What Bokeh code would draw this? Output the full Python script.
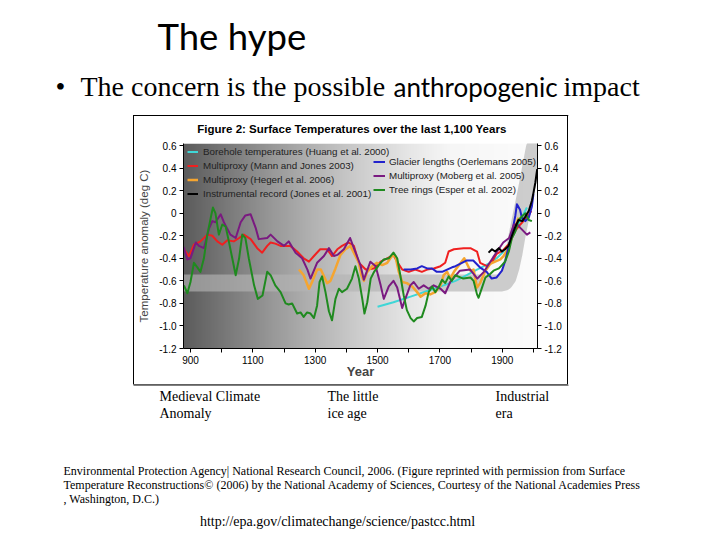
import numpy as np
from bokeh.plotting import figure
from bokeh.layouts import column, row
from bokeh.models import (Range1d, LinearAxis, FixedTicker, Label, Legend, LegendItem,
                          CustomJSTickFormatter, Spacer)
from bokeh.embed import file_html
from bokeh.resources import INLINE

# ---------------- data ----------------
bore_year = [1500, 1551, 1606, 1659, 1712, 1750, 1786, 1819, 1841, 1861, 1882, 1904, 1920, 1937, 1952, 1968, 1979]
bore_temp = [-0.83, -0.79, -0.74, -0.69, -0.64, -0.60, -0.55, -0.50, -0.47, -0.44, -0.40, -0.34, -0.28, -0.19, -0.10, -0.01, 0.05]

mann_year = [879, 895, 911, 932, 954, 970, 986, 1002, 1018, 1039, 1056, 1071, 1093, 1114, 1130, 1146, 1157, 1172, 1189, 1220,
             1242, 1263, 1280, 1296, 1316, 1338, 1354, 1371, 1386, 1407, 1424, 1440, 1462, 1488, 1510, 1531, 1551, 1563, 1579, 1600,
             1621, 1642, 1659, 1680, 1702, 1717, 1728, 1745, 1776, 1798, 1819, 1829, 1851, 1866, 1882, 1902, 1922, 1943, 1958, 1974,
             1984, 1993]
mann_temp = [-0.32, -0.38, -0.28, -0.25, -0.19, -0.20, -0.25, -0.28, -0.24, -0.25, -0.22, -0.19, -0.23, -0.31, -0.35, -0.29, -0.26, -0.27, -0.29, -0.29,
             -0.34, -0.40, -0.43, -0.38, -0.32, -0.32, -0.38, -0.32, -0.29, -0.26, -0.29, -0.44, -0.50, -0.49, -0.43, -0.40, -0.37, -0.43, -0.50, -0.52,
             -0.50, -0.52, -0.50, -0.49, -0.47, -0.44, -0.34, -0.32, -0.31, -0.31, -0.34, -0.44, -0.47, -0.44, -0.36, -0.33, -0.27, -0.15, -0.10, -0.05,
             -0.02, 0.02]

hegerl_year = [1248, 1263, 1280, 1290, 1306, 1318, 1338, 1349, 1365, 1381, 1397, 1413, 1429, 1440, 1448, 1456, 1467, 1483, 1498, 1515,
               1531, 1546, 1557, 1568, 1579, 1594, 1611, 1627, 1638, 1654, 1669, 1685, 1702, 1712, 1723, 1733, 1745, 1764, 1778, 1798,
               1808, 1819, 1829, 1846, 1861, 1877, 1894, 1904, 1920, 1931, 1942, 1952]
hegerl_temp = [-0.50, -0.55, -0.67, -0.61, -0.50, -0.50, -0.62, -0.60, -0.49, -0.37, -0.32, -0.29, -0.38, -0.44, -0.55, -0.60, -0.52, -0.47, -0.44, -0.46,
               -0.44, -0.38, -0.38, -0.52, -0.61, -0.62, -0.65, -0.70, -0.74, -0.71, -0.72, -0.70, -0.64, -0.55, -0.52, -0.58, -0.52, -0.45, -0.40, -0.51,
               -0.50, -0.66, -0.62, -0.51, -0.45, -0.43, -0.41, -0.38, -0.31, -0.21, -0.12, -0.04]

jones_year = [1856, 1867, 1877, 1889, 1899, 1909, 1920, 1931, 1942, 1952, 1964, 1974, 1985, 1995, 2000, 2006, 2012]
jones_temp = [-0.35, -0.32, -0.34, -0.31, -0.34, -0.32, -0.29, -0.20, -0.12, -0.06, -0.07, -0.03, 0.02, 0.11, 0.18, 0.27, 0.39]

glacier_year = [1584, 1606, 1627, 1642, 1659, 1675, 1690, 1707, 1723, 1739, 1750, 1785, 1807, 1828, 1850, 1866, 1882, 1899, 1910, 1920,
                1931, 1942, 1947, 1957, 1963, 1974, 1985, 1995, 2000]
glacier_temp = [-0.50, -0.50, -0.49, -0.47, -0.49, -0.49, -0.52, -0.52, -0.50, -0.48, -0.47, -0.42, -0.42, -0.48, -0.52, -0.58, -0.57, -0.51, -0.42, -0.30,
                -0.18, -0.02, 0.08, 0.03, -0.04, -0.07, -0.04, 0.06, 0.17]

moberg_year = [878, 890, 900, 917, 927, 943, 959, 970, 980, 997, 1007, 1028, 1045, 1061, 1076, 1093, 1109, 1119, 1146, 1157,
               1179, 1200, 1215, 1237, 1258, 1275, 1285, 1306, 1328, 1344, 1360, 1371, 1392, 1412, 1424, 1445, 1456, 1477, 1494, 1510,
               1520, 1536, 1551, 1563, 1579, 1589, 1605, 1616, 1632, 1648, 1664, 1680, 1702, 1717, 1733, 1764, 1797, 1820, 1841, 1871,
               1903, 1922, 1937, 1948, 1958, 1979, 1990]
moberg_temp = [-0.30, -0.41, -0.40, -0.26, -0.29, -0.31, -0.14, -0.07, -0.08, -0.01, -0.08, -0.19, -0.22, -0.08, -0.02, -0.01, -0.13, -0.23, -0.22, -0.19,
               -0.25, -0.29, -0.25, -0.35, -0.40, -0.50, -0.58, -0.44, -0.38, -0.31, -0.38, -0.37, -0.32, -0.22, -0.31, -0.46, -0.59, -0.43, -0.47, -0.64,
               -0.76, -0.65, -0.60, -0.66, -0.84, -0.76, -0.64, -0.61, -0.67, -0.64, -0.67, -0.64, -0.67, -0.71, -0.61, -0.51, -0.50, -0.58, -0.52, -0.39,
               -0.26, -0.22, -0.10, -0.10, -0.13, -0.19, -0.17]

esper_year = [879, 890, 900, 911, 922, 932, 943, 954, 965, 972, 980, 991, 1002, 1013, 1023, 1034, 1045, 1056, 1066, 1076,
              1087, 1104, 1116, 1131, 1146, 1157, 1172, 1189, 1205, 1215, 1226, 1242, 1253, 1263, 1274, 1285, 1296, 1306, 1314, 1322,
              1333, 1344, 1354, 1365, 1376, 1386, 1402, 1418, 1429, 1440, 1451, 1458, 1467, 1478, 1489, 1504, 1520, 1536, 1551, 1563,
              1573, 1584, 1594, 1606, 1616, 1627, 1642, 1654, 1664, 1675, 1685, 1697, 1707, 1717, 1728, 1738, 1749, 1775, 1798, 1808,
              1819, 1824, 1835, 1846, 1861, 1872, 1889, 1899, 1909, 1921, 1931, 1942, 1952, 1963, 1974, 1985, 1995]
esper_temp = [-0.64, -0.71, -0.61, -0.44, -0.48, -0.52, -0.40, -0.19, -0.04, 0.05, 0.00, -0.19, -0.10, -0.12, -0.25, -0.40, -0.55, -0.40, -0.19, -0.22,
              -0.40, -0.64, -0.76, -0.73, -0.52, -0.55, -0.64, -0.70, -0.80, -0.81, -0.80, -0.89, -0.88, -0.92, -0.88, -0.89, -0.93, -0.82, -0.61, -0.56,
              -0.70, -0.87, -0.95, -0.76, -0.67, -0.70, -0.67, -0.58, -0.47, -0.58, -0.76, -0.89, -0.79, -0.58, -0.52, -0.46, -0.41, -0.40, -0.35, -0.40,
              -0.55, -0.73, -0.86, -0.93, -0.96, -0.93, -0.92, -0.82, -0.70, -0.65, -0.70, -0.65, -0.59, -0.62, -0.56, -0.60, -0.55, -0.58, -0.57, -0.60,
              -0.72, -0.75, -0.66, -0.57, -0.54, -0.51, -0.49, -0.46, -0.43, -0.34, -0.22, -0.16, -0.06, -0.03, 0.00, -0.06, -0.07]

# background decoration: shaded "hockey stick" band and left-to-right shading
band_year = [850, 1895, 1908, 1918, 1928, 1938, 1948, 1962, 1977, 1992, 2003]
band_temp = [-0.62, -0.62, -0.61, -0.57, -0.48, -0.35, -0.19, 0.0, 0.2, 0.42, 0.58]
shade_year = [878, 1000, 1150, 1300, 1440, 1600, 1730, 2013]
shade_gray = [92, 118, 150, 180, 205, 230, 246, 252]

x_ticks = [900, 1100, 1300, 1500, 1700, 1900]
x_minor = [1000, 1200, 1400, 1600, 1800, 2000]
y_ticks = [0.6, 0.4, 0.2, 0.0, -0.2, -0.4, -0.6, -0.8, -1.0, -1.2]

chart_title = "Figure 2: Surface Temperatures over the last 1,100 Years"

X0, X1 = 877.6, 2013.0
Y0, Y1 = -1.2, 0.618

W = 720
TOP_H, MID_H, BOT_H = 116, 268, 156
TITLE_H = 22
LEFT_W, CHART_W, RIGHT_W = 133, 433, 152
CHART_X = LEFT_W + 1  # canvas x of the chart column


def text_fig(w, h):
    f = figure(width=w, height=h, output_backend="svg", toolbar_location=None,
               x_range=Range1d(0, w), y_range=Range1d(h, 0),
               x_axis_location=None, y_axis_location=None, min_border=0)
    f.outline_line_color = None
    f.grid.visible = False
    f.background_fill_color = "white"
    f.border_fill_color = "white"
    return f


def lab(f, text, x, y, size, font, align="left", style="normal"):
    f.add_layout(Label(x=x, y=y, text=text, text_font=font, text_font_size=size,
                       text_align=align, text_baseline="alphabetic",
                       text_font_style=style, text_color="black"))


# ---------------- chart ----------------
p = figure(width=CHART_W, height=MID_H - TITLE_H, output_backend="svg", toolbar_location=None,
           x_range=Range1d(X0, X1), y_range=Range1d(Y0, Y1),
           min_border_left=49, min_border_right=30, min_border_top=5, min_border_bottom=36)
p.background_fill_color = "white"
p.border_fill_color = "white"
p.outline_line_color = None
p.xgrid.visible = False
p.ygrid.visible = False

N = 400
cols = np.linspace(X0, X1, N)
g = np.interp(cols, shade_year, shade_gray).astype(np.uint8)
img = np.zeros((1, N), dtype=np.uint32)
v = img.view(dtype=np.uint8).reshape((1, N, 4))
v[0, :, 0] = g
v[0, :, 1] = g
v[0, :, 2] = g
v[0, :, 3] = 255
p.image_rgba(image=[img], x=X0, y=Y0, dw=X1 - X0, dh=Y1 - Y0)

p.line(band_year, band_temp, line_width=17, line_color="#b4b4b4", line_alpha=0.65,
       line_cap="round", line_join="round")

lw = 2
r_bore = p.line(bore_year, bore_temp, line_color="#3fd6d6", line_width=lw, line_join="round")
r_mann = p.line(mann_year, mann_temp, line_color="#f02020", line_width=lw, line_join="round")
r_heg = p.line(hegerl_year, hegerl_temp, line_color="#f5a530", line_width=2.5, line_join="round")
r_glac = p.line(glacier_year, glacier_temp, line_color="#2222cc", line_width=lw, line_join="round")
r_mob = p.line(moberg_year, moberg_temp, line_color="#7a1a80", line_width=lw, line_join="round")
r_esp = p.line(esper_year, esper_temp, line_color="#1f8a1f", line_width=lw, line_join="round")
r_jon = p.line(jones_year, jones_temp, line_color="black", line_width=lw, line_join="round")

fmt_y = CustomJSTickFormatter(code="return Math.abs(tick) < 1e-9 ? '0' : tick.toFixed(1);")
yl = p.yaxis[0]
yl.ticker = FixedTicker(ticks=y_ticks)
yl.formatter = fmt_y
yl.axis_label = "Temperature anomaly (deg C)"
yl.axis_label_text_font = "Liberation Sans"
yl.axis_label_text_font_size = "11.5px"
yl.axis_label_text_font_style = "normal"
yl.axis_label_standoff = 6
yr = LinearAxis(ticker=FixedTicker(ticks=y_ticks), formatter=fmt_y)
p.add_layout(yr, "right")
for ax in (yl, yr):
    ax.major_label_text_font = "Liberation Sans"
    ax.major_label_text_font_size = "10px"
    ax.major_label_text_color = "black"
    ax.major_tick_out = 4
    ax.major_tick_in = 0
    ax.minor_tick_out = 0
    ax.minor_tick_in = 0
    ax.major_label_standoff = 3
    ax.axis_line_color = "black"
    ax.major_tick_line_color = "black"

xa = p.xaxis[0]
xa.ticker = FixedTicker(ticks=x_ticks, minor_ticks=x_minor)
xa.formatter = CustomJSTickFormatter(code="return tick.toFixed(0);")
xa.major_label_text_font = "Liberation Sans"
xa.major_label_text_font_size = "10px"
xa.major_label_text_color = "black"
xa.major_tick_out = 4
xa.major_tick_in = 0
xa.minor_tick_out = 4
xa.minor_tick_in = 0
xa.major_label_standoff = 3
xa.axis_line_color = "black"
xa.axis_label = "Year"
xa.axis_label_text_font = "Liberation Sans"
xa.axis_label_text_font_size = "13px"
xa.axis_label_text_font_style = "bold"
xa.axis_label_standoff = -3

common = dict(orientation="vertical", padding=0, margin=0, spacing=1,
              glyph_height=13, label_height=13, label_text_font="Liberation Sans",
              label_text_font_size="9.8px",
              label_text_color="#222222", background_fill_alpha=0, border_line_alpha=0)
leg1 = Legend(items=[
    LegendItem(label="Borehole temperatures (Huang et al. 2000)", renderers=[r_bore]),
    LegendItem(label="Multiproxy (Mann and Jones 2003)", renderers=[r_mann]),
    LegendItem(label="Multiproxy (Hegerl et al. 2006)", renderers=[r_heg]),
    LegendItem(label="Instrumental record (Jones et al. 2001)", renderers=[r_jon]),
], location=(4, 148), glyph_width=11, label_standoff=5, **common)
leg2 = Legend(items=[
    LegendItem(label="Glacier lengths (Oerlemans 2005)", renderers=[r_glac]),
    LegendItem(label="Multiproxy (Moberg et al. 2005)", renderers=[r_mob]),
    LegendItem(label="Tree rings (Esper et al. 2002)", renderers=[r_esp]),
], location=(190, 152), glyph_width=12, label_standoff=4, **common)
p.add_layout(leg1)
p.add_layout(leg2)

# chart title strip (inside the chart box, above the plot)
tfig = text_fig(CHART_W, TITLE_H)
lab(tfig, chart_title, 340 - CHART_X, 128 - TOP_H, "11.5px", "Liberation Sans", align="center", style="bold")

chart_col = column(tfig, p, spacing=0,
                   styles={"outline": "1px solid black", "outline-offset": "0px"})

# ---------------- slide text & chart box edges ----------------
top = text_fig(W, TOP_H)
lab(top, "The hype", 157, 35, "36.5px", "Lato")
lab(top, "\u2022", 55, 86, "28px", "Liberation Serif")
lab(top, "The concern is the possible", 80, 86, "28px", "Liberation Serif")
lab(top, "anthropogenic", 393, 86, "26px", "Lato")
lab(top, "impact", 563, 86, "28px", "Liberation Serif")
top.line([133, 568], [TOP_H - 0.5, TOP_H - 0.5], line_color="black", line_width=1)

edge_style = {"background-color": "black"}
left_gap = Spacer(width=LEFT_W, height=MID_H)
left_edge = Spacer(width=1, height=MID_H, styles=edge_style)
right_edge = Spacer(width=1, height=MID_H, styles=edge_style)
right_gap = Spacer(width=RIGHT_W, height=MID_H)

bot = text_fig(W, BOT_H)
bot.line([133, 568], [0.5, 0.5], line_color="black", line_width=1)
B0 = TOP_H + MID_H  # canvas y of the bottom strip
lab(bot, "Medieval Climate", 159, 396 - B0, "14px", "Liberation Serif")
lab(bot, "Anomaly", 159, 413 - B0, "14px", "Liberation Serif")
lab(bot, "The little", 327, 396 - B0, "14px", "Liberation Serif")
lab(bot, "ice age", 327, 413 - B0, "14px", "Liberation Serif")
lab(bot, "Industrial", 495, 396 - B0, "14px", "Liberation Serif")
lab(bot, "era", 495, 413 - B0, "14px", "Liberation Serif")
lab(bot, "Environmental Protection Agency| National Research Council, 2006. (Figure reprinted with permission from Surface",
    63, 470.5 - B0, "12px", "Liberation Serif")
lab(bot, "Temperature Reconstructions\u00a9 (2006) by the National Academy of Sciences, Courtesy of the National Academies Press",
    63, 484.5 - B0, "12px", "Liberation Serif")
lab(bot, ", Washington, D.C.)", 63, 498 - B0, "12px", "Liberation Serif")
lab(bot, "http://epa.gov/climatechange/science/pastcc.html", 337, 521 - B0, "14px", "Liberation Serif", align="center")

layout = column(top, row(left_gap, left_edge, chart_col, right_edge, right_gap, spacing=0), bot, spacing=0)

open("out.html", "w").write(file_html(layout, INLINE))
